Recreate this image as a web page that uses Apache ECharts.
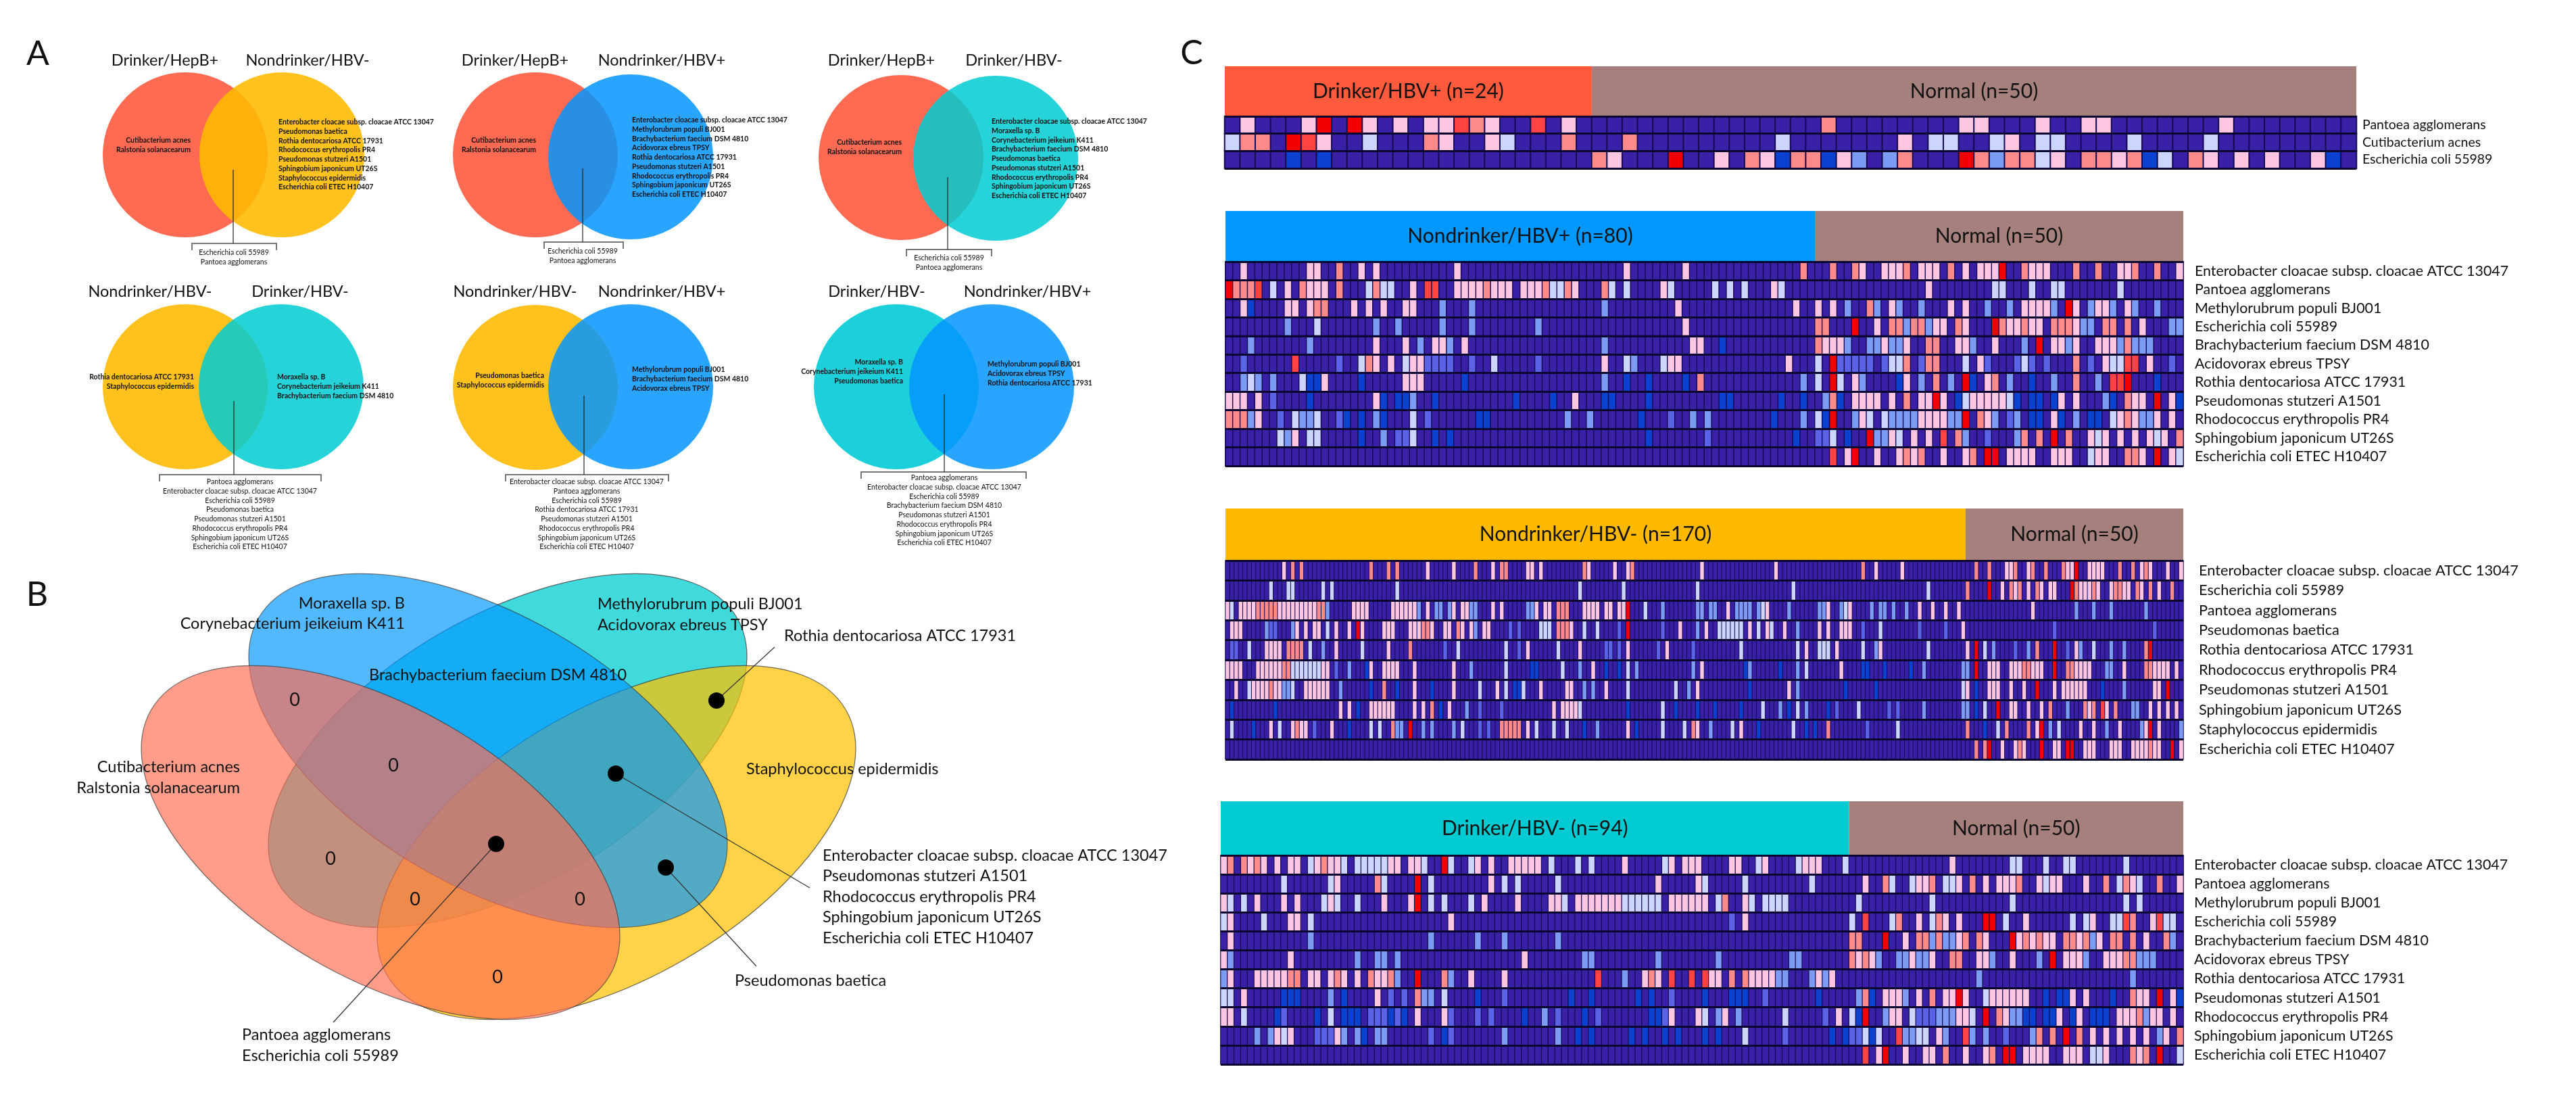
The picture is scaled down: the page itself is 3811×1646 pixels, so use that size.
<!DOCTYPE html>
<html>
<head>
<meta charset="utf-8">
<style>html,body{margin:0;padding:0;background:#fff}#c{width:3811px;height:1646px}</style>
<script src="https://cdn.jsdelivr.net/npm/echarts@6/dist/echarts.min.js"></script>
</head>
<body>
<div id="c"></div>
<script>
// ---------- species names
const ENT='Enterobacter cloacae subsp. cloacae ATCC 13047',PAN='Pantoea agglomerans',MET='Methylorubrum populi BJ001',
ECO='Escherichia coli 55989',BRA='Brachybacterium faecium DSM 4810',ACI='Acidovorax ebreus TPSY',ROT='Rothia dentocariosa ATCC 17931',
PST='Pseudomonas stutzeri A1501',RHO='Rhodococcus erythropolis PR4',SPH='Sphingobium japonicum UT26S',ETE='Escherichia coli ETEC H10407',
CUT='Cutibacterium acnes',RAL='Ralstonia solanacearum',PBA='Pseudomonas baetica',STA='Staphylococcus epidermidis',MOR='Moraxella sp. B',COR='Corynebacterium jeikeium K411';

// ---------- panel C: row labels
const rowsDrinkerPos=[PAN,CUT,ECO];
const rowsNondrinkerPos=[ENT,PAN,MET,ECO,BRA,ACI,ROT,PST,RHO,SPH,ETE];
const rowsNondrinkerNeg=[ENT,ECO,PAN,PBA,ROT,RHO,PST,SPH,STA,ETE];
const rowsDrinkerNeg=[ENT,PAN,MET,ECO,BRA,ACI,ROT,PST,RHO,SPH,ETE];

// ---------- panel C: cell levels per row, listing the non-background cells ("column level")
// levels: b strong blue, m medium blue, l light blue, w pale, p pink, s salmon, t light red, r red
const cellsDrinkerPos=[
"1p 5p 6r 8r 9p 11p 13-14p 15t 16s 17p 20t 22p 39s 48-49p 53p 56-57p 65p",
"0w 1s 2s 4r 5t 6p 9w 13s 14p 17p 18w 22s 26s 36w 44p 46-47w 50w 51p 53-54w 59w 64w",
"4b 6b 24s 25p 29r 32p 34s 35p 36b 37-38s 39b 40p 41l 43l 44s 48r 49s 50l 51-52s 53w 54p 56-57s 58p 59s 60b 61w 63s 64p 66p 68p 71p 72b"];
const cellsNondrinkerPos=[
"2p 11-12p 15s 18p 20p 31p 54p 62p 78s 82s 85s 86p 89-91p 92s 94-96p 98s 100p 102-104p 105r 108s 109-111p 115s 118s 121-122p 123s 126s 129p",
"0r 1-3s 4t 6w 8p 10s 11-13p 15s 19w 20s 21-22w 25p 27-28t 31-34p 35s 36-38p 40-42p 43s 44-45w 46s 47p 51s 52w 54w 59p 60w 66w 68w 70w 74p 75w 95p 104-105w 109w 112-113w 121w",
"2p 3b 8-9p 11p 12-13s 17p 19p 21p 24-25p 29l 33l 51l 61p 77p 80p 82p 84l 87s 88l 90p 91l 94l 98p 100p 103l 106l 108-111p 112l 114r 115p 117l 118-119p 120l 122p 123l 126l",
"8l 12w 20l 23l 29l 33l 42l 62p 80-81s 85r 88p 90-91s 92l 93-94s 95l 96-97p 99s 100p 104r 105s 106-107p 108s 109-110p 112-114s 115p 116-117l 119-120s 122s 124p 128-129l",
"3l 11l 20p 24p 26l 28-29p 30l 32p 51l 63-64p 67b 80s 81-83p 84l 87-88l 89p 90-91l 92p 95-96s 99-100p 101l 104p 108l 110r 112-113p 114l 115p 118-120p 121l 122s 123-125l",
"2m 9t 15m 18w 19s 20p 22p 24w 25-26p 27-30m 33m 36w 42m 51p 54w 55l 59w 60-61p 76p 80w 82r 83-87m 89m 90-91w 92s 94m 95-96s 100w 102p 103m 107m 108w 109m 111m 115s 117m 119p 120-121w 122-123t 125p 128m",
"2l 3w 4l 6l 10w 11-12b 13p 18b 24-26p 32b 51l 54b 57b 62b 64s 78l 80w 82r 83w 85p 86l 91b 92p 94l 96s 98l 100r 101b 103p 104s 106l 109b 112l 115s 118l 120-121t 122r 126b",
"0-2p 4p 6m 11b 20p 21b 23-24b 25l 28b 39b 44b 47p 51-52b 57b 67-68b 75b 78b 81l 82s 83b 85-88p 90p 92s 94-95p 96r 97p 99b 100w 101-105p 106w 107b 109-110b 112b 113p 115p 119l 120b 122s 123-124p 126r 128p 129b",
"0-2s 3l 4p 7m 9w 10-11l 12w 15m 16b 18b 20l 21b 25w 27m 34-35b 46l 49l 56b 60m 63l 65l 74b 78l 80w 81b 82r 85l 86p 87w 89w 90l 91-93l 94-97p 98-99l 100r 102s 103p 104l 106m 107l 109-110b 112p 113b 115l 117-118b 120w 121p 122s 123p 124-125l 126p 128p",
"7w 8l 9p 11-12w 18b 21l 23-24m 25w 28b 30b 57b 65m 77b 80-81m 82w 84b 87r 88-89l 90p 91w 93p 95p 97t 99s 100l 103m 107l 108s 110s 112r 114s 117p 118w 119p 121p 123p 125p 126w 127p 129s",
"82t 84p 85r 88p 91p 92s 93p 94s 97p 100p 101s 103-104r 106-109p 112-114p 117w 118-119p 122-123s 124p 126r 128p 129w"];
const cellsNondrinkerNeg=[
"13p 15s 17s 33s 37s 39s 46p 52p 57s 61p 63-64s 69-70p 72p 82s 83p 89p 92p 93s 109p 126p 146s 149p 155p 172s 175s 179-180p 181s 184p 185s 188s 192s 193-194p 195r 198-201p 205s 208s 210p 211s 212p 216p 219p",
"10w 14-15w 22w 24w 39w 81w 91w 108w 130w 161w 170s 175r 178p 180s 181p 182s 184p 186s 187p 189-190p 194r 195s 196-198p 199s 200p 203p 204-205s 206-207p 209s 210p 212s 214p 217s",
"0p 1w 3-6p 7-11s 12-20p 21-22s 23l 29-32p 38-43p 44l 46p 48-49l 51l 52p 54-55p 56-57l 61p 63p 69-70l 71p 73-74p 76-78s 82-85p 87-88p 90-91p 92r 96w 100l 108-109l 111-112l 115p 117-120l 122l 123w 124p 129l 136-137l 138p 141l 142w 143p 148l 150-151l 153l 156l 159p 162p 165p 168p 185p 195l 199l 203l 211l",
"1-3p 9l 10-11m 15l 16p 18p 20-21p 23w 25p 28p 30r 31p 36-38p 42-44p 45-46s 47p 50-51p 53s 54p 56p 57l 59-60p 65m 67m 72-74w 76-78s 79p 82w 85w 90m 92r 100m 104p 108l 110p 113-118w 120p 122w 124p 125w 128p 131l 136p 138p 141-143p 146m 150w 159m 165m 169p 190m 213m",
"1-2m 5w 9-12p 14-17s 19w 22l 25p 31w 37p 42s 50m 53w 64w 67m 69p 76w 81p 87-88m 90m 92p 99m 101p 107m 118w 131w 133p 136-138w 140p 146w 149l 150p 161w 170p 172r 174w 176l 181m 184l 186s 190r 193m 195p 196l 199w 203l 206l 211s 212r",
"0-3p 7-12p 13-14s 15-21w 22-23p 25m 28l 32b 33p 36-39p 43p 52p 56l 64w 70-71b 77w 81l 84p 87b 90b 92w 94l 107l 109p 119b 120l 127b 131l 133w 141p 146-147b 151b 157b 160l 169-170l 172r 175-177p 180-182p 183-184s 185-187p 190r 193-194s 195-198p 202-203l 206p 211-212s 213-216p 218p",
"2p 5w 6-9p 10s 11-12p 13-14l 15w 18-23p 26l 33b 36s 39b 43p 47b 52p 58w 62p 64w 66-67b 68w 72p 78-79p 82l 84l 87p 92w 103w 106l 108p 120b 129p 131l 142b 149b 169w 170p 172b 175-177p 180p 183p 186r 190p 192-197p 201b 206l 213-214p 216r",
"1b 11b 26p 28p 30b 33-38p 43p 45p 47s 49b 51p 55l 58m 63m 75p 77-80p 81w 92b 100w 103b 108b 112b 118b 123w 127l 129b 131w 133l 138b 140m 145w 152m 154m 160l 169-170l 172b 174w 177r 180-181p 184p 187p 189s 193l 197s 198p 199s 201t 202p 204s 208-209l 212p 214p 216p 218p",
"1w 6b 10p 12w 15p 16s 17-18p 20m 24p 28b 33w 35w 38s 39-40l 42r 45l 47l 52l 54w 58m 60m 63-67s 69p 71w 75w 78w 82b 85l 92p 94b 100w 105w 107s 108p 111l 116w 118p 122b 130w 133b 135b 138s 147m 154w 170s 174b 177w 179s 184s 186p 187r 189l 191w 196p 199p 202l 205p 210l 211p 212r 214p 219l",
"172s 174s 175r 178p 181p 182s 183p 187r 190-191p 193-194r 197-199p 203-205p 208-211p 212s 213-214p 217r 219p"];
const cellsDrinkerNeg=[
"0p 1s 3s 4p 5s 6p 8p 10-11p 13w 14p 15s 16-17p 18w 20-24w 25-26p 28-29p 30w 33r 34w 37w 38p 40p 43-47p 49w 53w 55w 60p 66w 67p 69-71p 76-77p 80w 81p 86w 87-89p 93w 109p 118-119w 123w 126-127w 135w",
"9w 16w 17p 23s 24w 29r 31w 40p 42w 44w 50w 65p 71p 72w 78w 88w 96p 99s 100w 103w 104-105p 106s 108-109w 110p 112s 114p 116-118p 119s 122p 123w 124-125p 129p 132s 134w 135s 136p 137w 140s 143p",
"0p 1w 3w 5p 9p 11p 15w 16p 17w 20w 24p 28p 29r 31w 33w 37w 39p 44p 49-50p 51w 53-59p 60-65w 67-72p 74w 75s 78p 79w 81-84w 95w 106w 118w 135w 137w",
"0w 1p 6w 10-11p 13w 34p 76m 78p 94w 96t 100w 101s 104p 106w 107s 108p 110p 114-115r 117w 120p 127w 129w 130p 133-134w 135t 136s 139p 140t 141-142w",
"1p 13l 31l 38l 42l 50l 94-95s 99r 102p 104-105s 106l 107s 108-109l 110p 111s 113s 114p 118r 119p 120s 121p 122s 123-124p 126-127s 128p 129s 130l 131p 133-134s 136s 138p 141s 142l",
"0p 1l 10p 20l 23-24l 26l 45p 54-55l 65l 74l 85-86l 94s 95p 96s 97p 98l 101-102l 103p 104-105l 106p 109-110s 113-114p 115l 118p 122l 124r 126-128p 129l 132-134p 135-136s 137-139l",
"0l 1p 5-9p 10-11s 13-14p 16p 17s 18p 20p 22s 23-24p 25s 26l 29r 33s 34l 37p 42p 56t 60l 63p 64s 65p 67t 70t 72t 73-74p 76s 78s 79p 80-82p 83-84l 88l 89p 90l 91p 113l 136l",
"0-1w 3p 9-11b 16l 18b 23p 25m 27m 29s 30-31l 33w 38b 42m 52b 55b 62b 64b 67m 72b 76-78b 81m 89b 95l 96s 97b 99-101p 102l 104p 106s 108-109p 110r 111p 114w 115-120p 123b 125-126b 127p 129p 133b 136s 137-138p 140r 142p 143b",
"0-1p 3w 8b 9m 14b 16w 18-20b 22-24m 25b 26m 27b 29p 33p 34m 38m 40m 45b 48l 50m 54b 56m 64-65b 66m 67p 71p 72w 74l 75p 77l 84w 90m 92p 94w 95b 96r 99l 100-101p 103w 104-106m 107-109l 110-111p 112w 114r 116s 117p 118-119l 120-121b 123-124b 125p 127b 128p 130-132b 134-136p 137s 138l 139-140p 142p",
"5l 7l 8p 9w 10p 14-16m 17p 18l 20l 21b 23-24l 31m 33b 34m 42l 50l 53b 55b 61b 63b 66b 68b 72b 74b 78w 84m 91b 93b 94-95m 96w 97b 98w 101t 102-103l 104-105w 107p 108l 111t 112l 114l 117m 121l 122s 124s 126r 128s 130p 132p 134p 136p 138p 140l 141p 143s",
"96t 98p 99r 102p 105-106p 108s 111p 114p 115s 117-118r 120-123p 126-128p 130-131w 132p 136s 137p 138s 140r 143w"];

// ---------- panel C: header groups
const headerNames=[['Drinker/HBV+ (n=24)','Normal (n=50)'],['Nondrinker/HBV+ (n=80)','Normal (n=50)'],['Nondrinker/HBV- (n=170)','Normal (n=50)'],['Drinker/HBV- (n=94)','Normal (n=50)']];
const headerCounts=[[24,50],[80,50],[170,50],[94,50]];

// ---------- panel A: set names and members
const titlesA=[['Drinker/HepB+','Nondrinker/HBV-'],['Drinker/HepB+','Nondrinker/HBV+'],['Drinker/HepB+','Drinker/HBV-'],['Nondrinker/HBV-','Drinker/HBV-'],['Nondrinker/HBV-','Nondrinker/HBV+'],['Drinker/HBV-','Nondrinker/HBV+']];
const onlyLeftA=[[CUT,RAL],[CUT,RAL],[CUT,RAL],[ROT,STA],[PBA,STA],[MOR,COR,PBA]];
const onlyRightA=[[ENT,PBA,ROT,RHO,PST,SPH,STA,ETE],[ENT,MET,BRA,ACI,ROT,PST,RHO,SPH,ETE],[ENT,MOR,COR,BRA,PBA,PST,RHO,SPH,ETE],[MOR,COR,BRA],[MET,BRA,ACI],[MET,ACI,ROT]];
const sharedA=[[ECO,PAN],[ECO,PAN],[ECO,PAN],[PAN,ENT,ECO,PBA,PST,RHO,SPH,ETE],[ENT,PAN,ECO,ROT,PST,RHO,SPH,ETE],[PAN,ENT,ECO,BRA,PST,RHO,SPH,ETE]];

// ---------- panel B: region contents
const zeroCounts=['0','0','0','0','0','0'];
const regionLabelsB=[[MOR],[COR],[MET],[ACI],[ROT],[BRA],[CUT],[RAL],[STA],[ENT],[PST],[RHO],[SPH],[ETE],[PBA],[PAN],[ECO]];

// ---------- styling / layout (not data)
const FONT='Lato';
const levelOrder='.bmlwpstr';
const levelColors=['#3a20a6','#0a42cf','#5a62e6','#7c9bf2','#ccd5fb','#ffc6e2','#ff8a8a','#ff4242','#f20000'];
const heatGrids=[
 {left:1812,width:1674,top:172,height:77,head:98,border:2,margin:9,font:19.5},
 {left:1813,width:1417,top:387,height:302,head:312,border:1.4,margin:17,font:21.4},
 {left:1813,width:1417,top:829,height:294,head:752,border:1,margin:23,font:21.8},
 {left:1806,width:1424,top:1265,height:309,head:1185,border:1.2,margin:16,font:21.4}];
const headerColors=[['#ff5a3c','#a5807c'],['#0097ff','#a5807c'],['#ffb900','#a5807c'],['#00cad2','#a5807c']];
const rowNames=[rowsDrinkerPos,rowsNondrinkerPos,rowsNondrinkerNeg,rowsDrinkerNeg];
const rowCells=[cellsDrinkerPos,cellsNondrinkerPos,cellsNondrinkerNeg,cellsDrinkerNeg];

const circlesA=[ // cx,cy,color,alpha for left then right circle of each diagram
 [274,229,'#ff6b52',1],[417,229,'#ffb900',.88],
 [792,229,'#ff6b52',1],[933,232,'#0495ff',.85],
 [1333,233,'#ff6b52',1],[1473,234,'#00cbd1',.85],
 [274,572,'#ffc11e',1],[416,572,'#00cbd1',.85],
 [792,573,'#ffc11e',1],[933,572,'#0495ff',.85],
 [1326,572,'#1bd0da',1],[1467,572,'#0495ff',.85]];
const RA=122;
const ellipsesB=[ // cx,cy,rotation deg,color,alpha; order teal,yellow,blue,red
 [751,1110,-30,'#00ccd0',.75],[912,1246,-30,'#ffc000',.72],[722,1110,30,'#0097ff',.68],[563,1246,30,'#ff6d53',.68]];
const titleLayoutA=[[244,455,89],[762,979,89],[1304,1500,89],[222,444,431],[762,979,431],[1297,1520,431]];
const leftLayoutA=[[282,208],[793,208],[1334,211],[287,558],[805,556],[1336,536]];
const rightLayoutA=[[412,181],[935,178],[1467,180],[410,558],[935,547],[1461,539]];
const bottomLayoutA=[[346,374],[862,372],[1404,382],[355,713],[868,713],[1397,707]];
const bracketLayoutA=[[284,409,360,345,251],[805,922,358,862,249],[1341,1467,369,1402,262],[236,475,702,346,593],[748,989,702,864,585],[1274,1518,698,1397,583]];
const zeroPosB=[[436,1035],[582,1132],[489,1270],[614,1330],[858,1330],[736,1445]];
const dotPosB=[[1060,1036],[911,1144],[734,1248],[985,1283]];
const leadersB=[[1060,1036,1146,957],[911,1144,1198,1313],[985,1283,1119,1429],[734,1248,493,1512]];
const regionLayoutB=[[599,892,'right'],[599,922,'right'],[884,893,'left'],[884,924,'left'],[1160,940,'left'],[546,998,'left'],[355,1134,'right'],[355,1165,'right'],[1104,1137,'left'],[1217,1265,'left'],[1217,1295,'left'],[1217,1326,'left'],[1217,1356,'left'],[1217,1387,'left'],[1087,1450,'left'],[358,1530,'left'],[358,1561,'left']];
const letters=[['A',56,80],['B',55,880],['C',1763,79]];

// ---------- build text records
const texts=[];
function addText(t,x,y,align,size,weight){texts.push([x,y,t,align,size,weight||'normal']);}
letters.forEach(l=>addText(l[0],l[1],l[2],'center',50));
titlesA.forEach((t,i)=>{const L=titleLayoutA[i];addText(t[0],L[0],L[2],'center',23.5);addText(t[1],L[1],L[2],'center',23.5);});
const SA=10.5,DY=13.7;
onlyLeftA.forEach((list,i)=>list.forEach((t,k)=>addText(t,leftLayoutA[i][0],leftLayoutA[i][1]+k*DY,'right',SA,'bold')));
onlyRightA.forEach((list,i)=>list.forEach((t,k)=>addText(t,rightLayoutA[i][0],rightLayoutA[i][1]+k*DY,'left',SA,'bold')));
sharedA.forEach((list,i)=>list.forEach((t,k)=>addText(t,bottomLayoutA[i][0],bottomLayoutA[i][1]+k*DY,'center',SA)));
regionLabelsB.forEach((r,i)=>addText(r[0],regionLayoutB[i][0],regionLayoutB[i][1],regionLayoutB[i][2],23.5));
zeroCounts.forEach((z,i)=>addText(z,zeroPosB[i][0],zeroPosB[i][1],'center',27));

// ---------- parse heat cells
function parseRow(str,n,rowIdx,out){
  const v=new Array(n).fill(0);
  str.split(' ').forEach(tok=>{
    const m=tok.match(/^(\d+)(?:-(\d+))?([a-z])$/);
    const a=+m[1],b=m[2]?+m[2]:a,lv=levelOrder.indexOf(m[3]);
    for(let c=a;c<=b&&c<n;c++)v[c]=lv;
  });
  v.forEach((val,c)=>out.push([c,rowIdx,val]));
}

// ---------- option
const grids=[{left:0,top:0,width:3811,height:1646}];
const xAxes=[{type:'value',gridIndex:0,min:0,max:3811,show:false}];
const yAxes=[{type:'value',gridIndex:0,min:0,max:1646,inverse:true,show:false}];
const series=[];
const heatIdx=[];

// page layer
const px=(api,x,y)=>api.coord([x,y]);
series.push({type:'custom',xAxisIndex:0,yAxisIndex:0,silent:true,z:1,data:circlesA,clip:false,
 renderItem:(p,api)=>{const c=px(api,api.value(0),api.value(1));const d=circlesA[p.dataIndex];
  return {type:'circle',shape:{cx:c[0],cy:c[1],r:RA},style:{fill:d[2],opacity:d[3]}};}});
series.push({type:'custom',xAxisIndex:0,yAxisIndex:0,silent:true,z:1,data:ellipsesB,clip:false,
 renderItem:(p,api)=>{const c=px(api,api.value(0),api.value(1));const d=ellipsesB[p.dataIndex];
  return {type:'ellipse',x:c[0],y:c[1],rotation:-d[2]*Math.PI/180,shape:{cx:0,cy:0,rx:392,ry:200},
   style:{fill:d[3],opacity:d[4],stroke:'#333',lineWidth:1.2}};}});
series.push({type:'custom',xAxisIndex:0,yAxisIndex:0,silent:true,z:2,data:bracketLayoutA,clip:false,
 renderItem:(p,api)=>{const d=bracketLayoutA[p.dataIndex];
  const a=px(api,d[0],d[2]+10),b=px(api,d[0],d[2]),c=px(api,d[1],d[2]),e=px(api,d[1],d[2]+10),f=px(api,d[3],d[4]),g=px(api,d[3],d[2]);
  return {type:'group',children:[
   {type:'polyline',shape:{points:[a,b,c,e]},style:{fill:null,stroke:'#777',lineWidth:2}},
   {type:'line',shape:{x1:f[0],y1:f[1],x2:g[0],y2:g[1]},style:{stroke:'#222',lineWidth:1.2}}]};}});
series.push({type:'custom',xAxisIndex:0,yAxisIndex:0,silent:true,z:3,data:leadersB,clip:false,
 renderItem:(p,api)=>{const d=leadersB[p.dataIndex];const a=px(api,d[0],d[1]),b=px(api,d[2],d[3]);
  return {type:'line',shape:{x1:a[0],y1:a[1],x2:b[0],y2:b[1]},style:{stroke:'#333',lineWidth:1.2}};}});
series.push({type:'custom',xAxisIndex:0,yAxisIndex:0,silent:true,z:4,data:dotPosB,clip:false,
 renderItem:(p,api)=>{const c=px(api,api.value(0),api.value(1));
  return {type:'circle',shape:{cx:c[0],cy:c[1],r:12},style:{fill:'#000'}};}});
series.push({type:'custom',xAxisIndex:0,yAxisIndex:0,silent:true,z:5,data:texts.map(t=>[t[0],t[1]]),clip:false,
 renderItem:(p,api)=>{const t=texts[p.dataIndex];const c=px(api,t[0],t[1]);
  return {type:'text',x:c[0],y:c[1],style:{text:t[2],textAlign:t[3],textVerticalAlign:'middle',fontFamily:FONT,fontSize:t[4],fontWeight:t[5],fill:'#111'}};}});

heatGrids.forEach((g,i)=>{
  const n=headerCounts[i][0]+headerCounts[i][1];
  const gi=grids.length;
  grids.push({left:g.left,top:g.top,width:g.width,height:g.height,backgroundColor:'#0b0630',show:true,borderWidth:0});
  xAxes.push({type:'category',gridIndex:gi,data:Array.from({length:n},(_,k)=>'S'+(k+1)),show:false});
  yAxes.push({type:'category',gridIndex:gi,data:rowNames[i],inverse:true,position:'right',z:5,
    axisLine:{show:false},axisTick:{show:false},
    splitLine:{show:true,interval:0,lineStyle:{color:'#0b0630',width:3}},
    axisLabel:{interval:0,margin:g.margin,fontFamily:FONT,fontSize:g.font,color:'#111'}});
  const cells=[];
  rowCells[i].forEach((s,r)=>parseRow(s,n,r,cells));
  heatIdx.push(series.length);
  series.push({type:'heatmap',xAxisIndex:gi,yAxisIndex:gi,data:cells,progressive:0,silent:true,
    emphasis:{disabled:true},itemStyle:{borderColor:'#150a50',borderWidth:g.border}});
  const hi=grids.length;
  grids.push({left:g.left,top:g.head,width:g.width,height:g.top-g.head});
  xAxes.push({type:'value',gridIndex:hi,min:0,max:n,show:false});
  yAxes.push({type:'category',gridIndex:hi,data:['group'],show:false});
  headerCounts[i].forEach((cnt,k)=>{
    series.push({type:'bar',xAxisIndex:hi,yAxisIndex:hi,stack:'h'+i,data:[cnt],barWidth:'100%',silent:true,
      itemStyle:{color:headerColors[i][k]},
      label:{show:true,position:'inside',formatter:headerNames[i][k],fontFamily:FONT,fontSize:30,color:'#111'}});
  });
});

const chart=echarts.init(document.getElementById('c'),null,{renderer:'canvas',width:3811,height:1646});
chart.setOption({animation:false,backgroundColor:'#fff',grid:grids,xAxis:xAxes,yAxis:yAxes,
  visualMap:{type:'piecewise',show:false,dimension:2,seriesIndex:heatIdx,
    pieces:levelColors.map((c,i)=>({value:i,color:c}))},
  series});
</script>
</body>
</html>
